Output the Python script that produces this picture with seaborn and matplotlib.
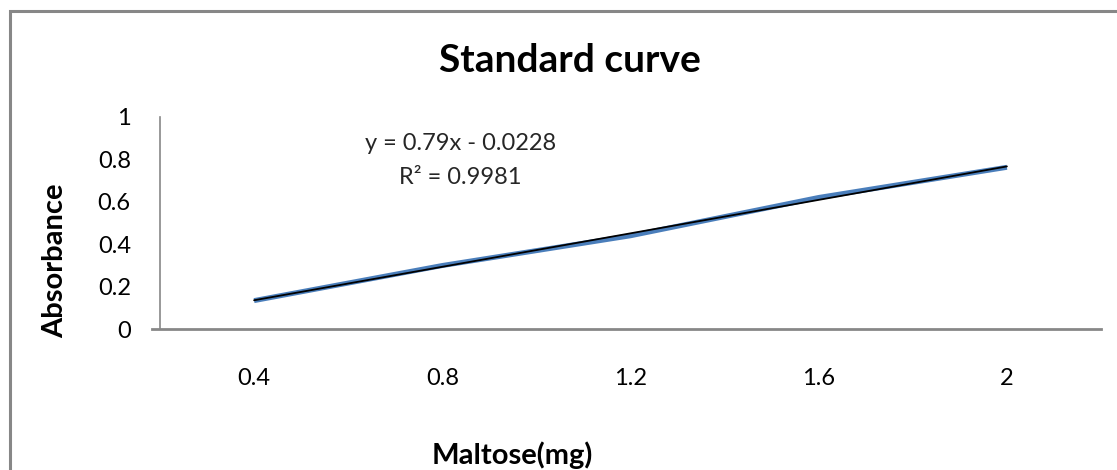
import numpy as np
import pandas as pd
import matplotlib
matplotlib.use("Agg")
import matplotlib.pyplot as plt
import seaborn as sns
from matplotlib.patches import Rectangle

# Data
categories = ["0.4", "0.8", "1.2", "1.6", "2"]
absorbance = [0.135, 0.30, 0.44, 0.62, 0.762]
y_ticks = [0, 0.2, 0.4, 0.6, 0.8, 1]
y_tick_labels = ["0", "0.2", "0.4", "0.6", "0.8", "1"]
title = "Standard curve"
x_label = "Maltose(mg)"
y_label = "Absorbance"
equation = "y = 0.79x - 0.0228"
r2_text = "R² = 0.9981"

sns.set_theme(style="white")
plt.rcParams['font.family'] = ['Lato', 'DejaVu Sans']

W, H = 1117, 470
fig = plt.figure(figsize=(W / 100, H / 100), dpi=100)
fig.patch.set_facecolor("white")

# outer chart border
fig.patches.append(Rectangle((10 / W, -0.05), 1.2, (H - 11) / H + 0.05,
                             transform=fig.transFigure, fill=False,
                             edgecolor="#878787", linewidth=2.2, zorder=0))

ax = fig.add_axes([160 / W, (H - 329.3) / H, (1101 - 160) / W, (329.3 - 116.7) / H])
ax.set_facecolor("none")

idx = np.arange(len(categories))
df = pd.DataFrame({"pos": idx, "abs": absorbance})
sns.lineplot(data=df, x="pos", y="abs", ax=ax, color="#4A7EBB", linewidth=3.6,
             solid_capstyle="butt", zorder=2)

# linear trendline (black)
coef = np.polyfit(idx, absorbance, 1)
tx = np.array([idx[0], idx[-1]])
ax.plot(tx, np.polyval(coef, tx), color="black", linewidth=1.3, zorder=3)

ax.set_xlim(-0.5, len(categories) - 0.5)
ax.set_ylim(0, 1)
ax.set_xticks(idx)
ax.set_xticklabels(categories)
ax.set_yticks(y_ticks)
ax.set_yticklabels(y_tick_labels)
ax.tick_params(axis="x", length=0, pad=28, labelsize=17, colors="black")
ax.tick_params(axis="y", length=7, width=1, color="#878787", direction="out",
               pad=14, labelsize=17, labelcolor="black")
ax.set_xlabel("")
ax.set_ylabel("")

for s in ["top", "right"]:
    ax.spines[s].set_visible(False)
for s in ["left", "bottom"]:
    ax.spines[s].set_color("#878787")
    ax.spines[s].set_linewidth(1.2)
ax.spines["bottom"].set_linewidth(2.0)
ax.spines["bottom"].set_bounds(-0.5 - 8 / 188.2, len(categories) - 0.5)

# texts
fig.text(570 / W, 1 - 60 / H, title, ha="center", va="center",
         fontsize=28, fontweight="bold", color="black")
fig.text(512 / W, 1 - 455 / H, x_label, ha="center", va="center",
         fontsize=21, fontweight="bold", color="black")
fig.text(55 / W, 1 - 261 / H, y_label, ha="center", va="center", rotation=90,
         fontsize=21, fontweight="bold", color="black")
fig.text(461 / W, 1 - 143 / H, equation, ha="center", va="center",
         fontsize=17, color="#262626")
fig.text(460 / W, 1 - 178 / H, r2_text, ha="center", va="center",
         fontsize=17, color="#262626")

fig.savefig("out.png", dpi=100, facecolor="white")
